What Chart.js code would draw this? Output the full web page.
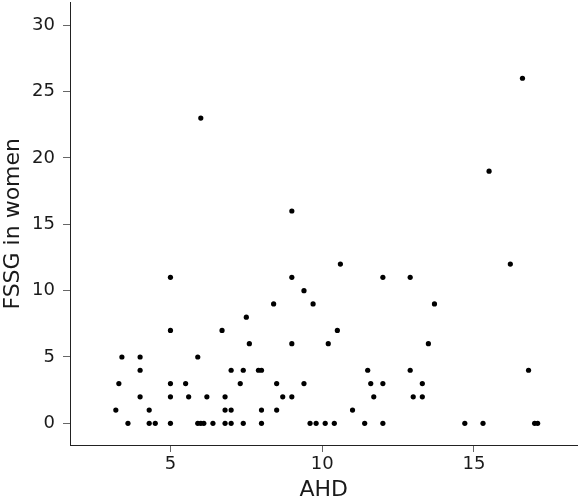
<!DOCTYPE html>
<html>
<head>
<meta charset="utf-8">
<script src="https://cdn.jsdelivr.net/npm/chart.js@4/dist/chart.umd.min.js"></script>
<style>
  html, body { margin: 0; padding: 0; background: #fff; }
  #wrap { width: 580px; height: 503px; }
</style>
</head>
<body>
<div id="wrap"><canvas id="chart"></canvas></div>
<script>
// AHD (x) and FSSG in women (y)
const ahd = [
  3.2, 3.3, 3.4, 3.6,
  4.0, 4.0, 4.0, 4.3, 4.3, 4.5,
  5.0, 5.0, 5.0, 5.0, 5.0, 5.5, 5.6,
  5.9, 5.9, 6.0, 6.0, 6.1, 6.2, 6.4,
  6.7, 6.8, 6.8, 6.8, 7.0, 7.0, 7.0,
  7.3, 7.4, 7.4, 7.5, 7.6,
  7.9, 8.0, 8.0, 8.0, 8.4, 8.5, 8.5, 8.7,
  9.0, 9.0, 9.0, 9.0, 9.4, 9.4,
  9.6, 9.7, 9.8, 10.1, 10.2, 10.4, 10.5, 10.6,
  11.0, 11.4, 11.5, 11.6, 11.7,
  12.0, 12.0, 12.0, 12.9, 12.9, 13.0,
  13.3, 13.3, 13.5, 13.7,
  14.7, 15.3, 15.5, 16.2, 16.6, 16.8, 17.0, 17.1
];
const fssg = [
  1, 3, 5, 0,
  5, 4, 2, 1, 0, 0,
  11, 7, 3, 2, 0, 3, 2,
  5, 0, 23, 0, 0, 2, 0,
  7, 2, 1, 0, 4, 1, 0,
  3, 4, 0, 8, 6,
  4, 4, 1, 0, 9, 3, 1, 2,
  16, 11, 6, 2, 10, 3,
  0, 9, 0, 0, 6, 0, 7, 12,
  1, 0, 4, 3, 2,
  11, 3, 0, 11, 4, 2,
  2, 3, 6, 9,
  0, 0, 19, 12, 26, 4, 0, 0
];
const xTicks = [5, 10, 15];
const yTicks = [0, 5, 10, 15, 20, 25, 30];

const points = ahd.map((x, i) => ({ x: x, y: fssg[i] }));

const tickFont = { family: 'DejaVu Sans', size: 18 };
const titleFont = { family: 'DejaVu Sans', size: 22 };

new Chart(document.getElementById('chart'), {
  type: 'scatter',
  data: {
    datasets: [{
      data: points,
      backgroundColor: '#000',
      borderColor: '#000',
      pointRadius: 2.6,
      pointHoverRadius: 2.6,
      borderWidth: 0
    }]
  },
  options: {
    responsive: true,
    maintainAspectRatio: false,
    animation: false,
    layout: { padding: 0 },
    plugins: { legend: { display: false }, tooltip: { enabled: false } },
    scales: {
      x: {
        type: 'linear',
        min: 1.69,
        max: 18.41,
        afterBuildTicks: axis => { axis.ticks = xTicks.map(v => ({ value: v })); },
        afterFit: axis => {
          axis.height = 58;
          axis.paddingLeft = 0;
          axis.paddingRight = 0;
        },
        grid: { drawOnChartArea: false, tickLength: 7, color: '#666' },
        border: { display: true, color: '#222', width: 1 },
        ticks: { color: '#1a1a1a', font: tickFont, padding: 2, maxRotation: 0 },
        title: { display: true, text: 'AHD', color: '#1a1a1a', font: titleFont, padding: { top: 4, bottom: 0 } }
      },
      y: {
        type: 'linear',
        min: -1.63,
        max: 31.7,
        afterBuildTicks: axis => { axis.ticks = yTicks.map(v => ({ value: v })); },
        afterFit: axis => {
          axis.width = 70;
          axis.paddingTop = 0;
          axis.paddingBottom = 0;
        },
        grid: { drawOnChartArea: false, tickLength: 7, color: '#666' },
        border: { display: true, color: '#222', width: 1 },
        ticks: { color: '#1a1a1a', font: tickFont, padding: 8 },
        title: { display: true, text: 'FSSG in women', color: '#1a1a1a', font: titleFont, padding: { top: 0, bottom: 0 } }
      }
    }
  }
});
</script>
</body>
</html>
